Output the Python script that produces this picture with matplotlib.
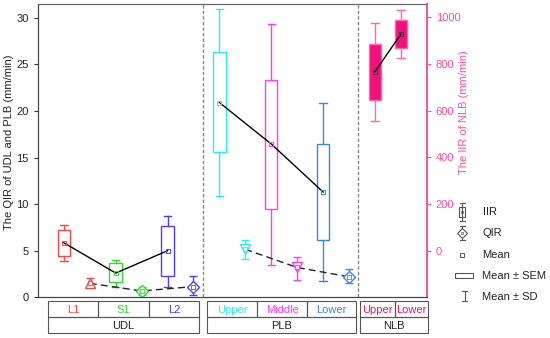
import numpy as np
import matplotlib
matplotlib.use('Agg')
import matplotlib.pyplot as plt
from matplotlib.patches import Rectangle

plt.rcParams['font.family'] = ['Liberation Sans', 'DejaVu Sans']

# ── data ────────────────────────────────────────────────────
# IIR of UDL and PLB (left axis)
iir_labels = ['L1', 'S1', 'L2', 'Upper', 'Middle', 'Lower']
iir_mean   = [5.85, 2.6, 5.0, 20.9, 16.45, 11.3]
iir_sem_lo = [4.45, 1.6, 2.3, 15.55, 9.45, 6.2]
iir_sem_hi = [7.2, 3.65, 7.6, 26.3, 23.3, 16.4]
iir_sd_lo  = [3.9, 1.15, 1.1, 10.9, 3.45, 1.8]
iir_sd_hi  = [7.8, 4.05, 8.75, 30.9, 29.3, 20.8]

# QIR of UDL and PLB (left axis)
qir_mean = [1.5, 0.68, 1.15, 5.15, 3.2, 2.2]
qir_lo   = [1.1, 0.25, 0.2, 4.1, 1.86, 1.57]
qir_hi   = [2.1, 1.15, 2.3, 6.15, 4.35, 3.04]
qir_mark = ['^', 'D', 'D', 'v', 'v', 'D']

# IIR of NLB (right axis)
nlb_labels = ['Upper', 'Lower']
nlb_mean   = [767, 928]
nlb_sem_lo = [646, 868]
nlb_sem_hi = [887, 988]
nlb_sd_lo  = [557, 824]
nlb_sd_hi  = [975, 1033]

groups = ['UDL', 'PLB', 'NLB']

colors = ['#f24a4a', '#2fdc2f', '#5a3cf0', '#2aeeee', '#ff3cf0', '#3f86d6']
NLB_FILL = '#f2117a'
NLB_LINE = '#ff66ad'
PINK = '#ff4fa8'

# ── layout ──────────────────────────────────────────────────
fig = plt.figure(figsize=(5.5, 3.38), dpi=100)
ax = fig.add_axes([0.069, 0.1204, 0.707, 0.8676])
ax2 = ax.twinx()

box_x = np.arange(1, 7)
qir_x = box_x + 0.5
nlb_x = np.array([7.0, 7.5])
bw = 0.24
cap = 0.07


def draw_box(a, x, lo, hi, slo, shi, m, col, fill=None, mcol=None):
    a.plot([x, x], [slo, lo], color=col, lw=1, zorder=2)
    a.plot([x, x], [hi, shi], color=col, lw=1, zorder=2)
    a.plot([x - cap, x + cap], [slo, slo], color=col, lw=1, zorder=2)
    a.plot([x - cap, x + cap], [shi, shi], color=col, lw=1, zorder=2)
    a.add_patch(Rectangle((x - bw / 2, lo), bw, hi - lo,
                          facecolor=fill if fill else 'none',
                          edgecolor=col, lw=1, zorder=3))
    a.plot(x, m, 's', ms=3.5, mfc='none', mec=mcol if mcol else col,
           mew=0.7, zorder=5)


for i in range(6):
    draw_box(ax, box_x[i], iir_sem_lo[i], iir_sem_hi[i], iir_sd_lo[i],
             iir_sd_hi[i], iir_mean[i], colors[i])
    c = colors[i]
    ax.errorbar(qir_x[i], qir_mean[i],
                yerr=[[qir_mean[i] - qir_lo[i]], [qir_hi[i] - qir_mean[i]]],
                fmt='none', ecolor=c, elinewidth=1, capsize=3, capthick=1, zorder=3)
    ax.plot(qir_x[i], qir_mean[i], qir_mark[i], ms=7.5 if qir_mark[i] != 'D' else 6,
            mfc='white', mec=c, mew=1, zorder=4)
    ax.plot(qir_x[i], qir_mean[i], 's', ms=2.5, mfc='none', mec=c, mew=0.6, zorder=5)

# mean connecting lines
for sl in [slice(0, 3), slice(3, 6)]:
    ax.plot(box_x[sl], iir_mean[sl], color='black', lw=1, zorder=4)
    ax.plot(qir_x[sl], qir_mean[sl], color='#222222', lw=1, ls=(0, (5, 3)), zorder=2)

for i in range(2):
    draw_box(ax2, nlb_x[i], nlb_sem_lo[i], nlb_sem_hi[i], nlb_sd_lo[i],
             nlb_sd_hi[i], nlb_mean[i], NLB_LINE, fill=NLB_FILL, mcol='#444444')
ax2.plot(nlb_x, nlb_mean, color='black', lw=1, zorder=4)

# separators
for xs in [3.68, 6.68]:
    ax.axvline(xs, color='#888888', lw=1, ls=(0, (2.5, 1.5)), zorder=1)

ax.set_xlim(0.5, 8.0)
ax.set_ylim(0, 31.47)
ax.set_yticks(np.arange(0, 31, 5))
ax.set_xticks([])
ax2.set_ylim(-200, 1057)
ax2.set_yticks(np.arange(0, 1001, 200))

ax.tick_params(axis='y', labelsize=8, length=3, width=0.8, colors='#333333',
               labelcolor='#222222')
ax2.tick_params(axis='y', labelsize=8, length=3, width=0.8, colors=PINK,
                labelcolor=PINK)
ax.set_ylabel('The QIR of UDL and PLB (mm/min)', fontsize=8, color='#222222')
ax.yaxis.set_label_coords(-0.062, 0.53)
ax2.set_ylabel('The IIR of NLB (mm/min)', fontsize=8, color=PINK)
ax2.yaxis.set_label_coords(1.083, 0.63)

for a in [ax, ax2]:
    a.spines['top'].set_color('#666666')
    a.spines['left'].set_color('#444444')
    a.spines['bottom'].set_color('#444444')
    a.spines['right'].set_color(PINK)
    a.spines['right'].set_linewidth(1.2)

# ── category table below the axis ──────────────────────────
tax = fig.add_axes([0.069, 0.0139, 0.707, 0.0956])
tax.set_xlim(0.5, 8.0)
tax.set_ylim(0, 2)
tax.axis('off')

cells = [(0.685, 1.66), (1.66, 2.64), (2.64, 3.61),
         (3.77, 4.73), (4.73, 5.69), (5.69, 6.64),
         (6.71, 7.39), (7.39, 8.02)]
cell_text = iir_labels + nlb_labels
cell_cols = colors + [NLB_FILL, NLB_FILL]
group_span = [(0.685, 3.61), (3.77, 6.64), (6.71, 8.02)]

for (x0, x1), t, c in zip(cells, cell_text, cell_cols):
    tax.add_patch(Rectangle((x0, 1), x1 - x0, 1, facecolor='none',
                            edgecolor='#555555', lw=0.8, clip_on=False))
    tax.text((x0 + x1) / 2, 1.45, t, color=c, fontsize=8, ha='center', va='center')
for (x0, x1), g in zip(group_span, groups):
    tax.add_patch(Rectangle((x0, 0), x1 - x0, 1, facecolor='none',
                            edgecolor='#555555', lw=0.8, clip_on=False))
    tax.text((x0 + x1) / 2, 0.45, g, color='#222222', fontsize=8,
             ha='center', va='center')

# ── legend (pixel-space overlay) ───────────────────────────
lax = fig.add_axes([0, 0, 1, 1])
lax.set_xlim(0, 550)
lax.set_ylim(338, 0)
lax.axis('off')
LG = '#555555'
lx = 462
# IIR
lax.plot([lx, lx], [203, 221], color=LG, lw=0.8)
lax.plot([lx - 2.5, lx + 2.5], [203, 203], color=LG, lw=0.8)
lax.plot([lx - 2.5, lx + 2.5], [221, 221], color=LG, lw=0.8)
lax.add_patch(Rectangle((lx - 3, 207), 6, 10, facecolor='white', edgecolor=LG, lw=0.8))
lax.plot(lx, 212, 's', ms=2, mfc='none', mec=LG, mew=0.5)
# QIR
lax.plot([lx, lx], [226, 240], color=LG, lw=0.8)
lax.plot([lx - 2.5, lx + 2.5], [226, 226], color=LG, lw=0.8)
lax.plot([lx - 2.5, lx + 2.5], [240, 240], color=LG, lw=0.8)
lax.plot(lx, 233, 'D', ms=5, mfc='white', mec=LG, mew=0.8)
lax.plot(lx, 233, 's', ms=2, mfc='none', mec=LG, mew=0.5)
# Mean
lax.plot(lx, 255, 's', ms=2.5, mfc='none', mec=LG, mew=0.7)
# SEM
lax.add_patch(Rectangle((455, 272.5), 17.5, 5.5, facecolor='none', edgecolor=LG, lw=0.8))
# SD
sx = 464.5
lax.plot([sx, sx], [291, 301], color=LG, lw=0.8)
lax.plot([sx - 2.5, sx + 2.5], [291, 291], color=LG, lw=0.8)
lax.plot([sx - 2.5, sx + 2.5], [301, 301], color=LG, lw=0.8)
for yy, t in zip([212, 233, 255, 276, 296.5],
                 ['IIR', 'QIR', 'Mean', 'Mean \u00b1 SEM', 'Mean \u00b1 SD']):
    lax.text(482.5, yy, t, fontsize=8, color='#222222', va='center', ha='left')

fig.savefig('out.png', dpi=100)
